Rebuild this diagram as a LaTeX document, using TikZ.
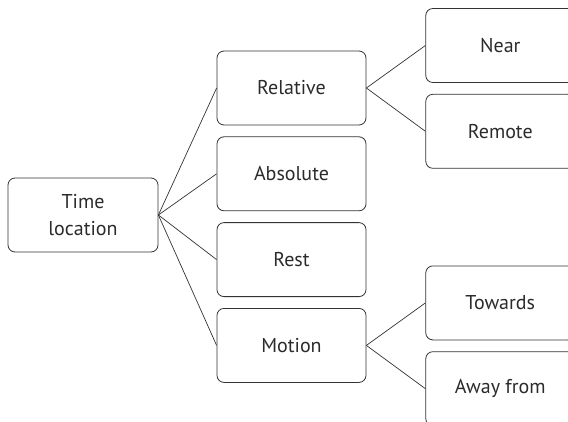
\documentclass[tikz,border=0pt]{standalone}
\usepackage{fontspec}
\setmainfont{PT Sans}
\usetikzlibrary{positioning}
\definecolor{ink}{HTML}{2B2B2B}
\definecolor{edge}{HTML}{333333}

\begin{document}
\begin{tikzpicture}[x=1pt,y=-1pt,node distance=11pt,
  box/.style={draw=edge,line width=0.8pt,rounded corners=7pt,minimum width=149pt,minimum height=74pt,align=center,text=ink,font=\fontsize{20}{27}\selectfont,inner sep=0pt},
  link/.style={draw=edge,line width=0.7pt}]
\useasboundingbox (0,0) rectangle (568,421);
\clip (0,0) rectangle (568,421);
\node[box,minimum width=150pt] (t) at (83,215) {Time\\location};
\node[box] (rel) at (291.5,88) {Relative};
\node[box,below=of rel] (abs) {Absolute};
\node[box,below=of abs] (rest) {Rest};
\node[box,below=of rest] (mot) {Motion};
\node[box,right=59pt of rel,yshift=42.5pt] (near) {Near};
\node[box,below=of near] (rem) {Remote};
\node[box,right=59pt of mot,yshift=42.5pt] (tow) {Towards};
\node[box,below=of tow] (away) {Away from};
\foreach \c in {rel,abs,rest,mot}
  \draw[link] (t.east)--(\c.west);
\draw[link] (rel.east)--(near.west);
\draw[link] (rel.east)--(rem.west);
\draw[link] (mot.east)--(tow.west);
\draw[link] (mot.east)--(away.west);
\end{tikzpicture}
\end{document}
